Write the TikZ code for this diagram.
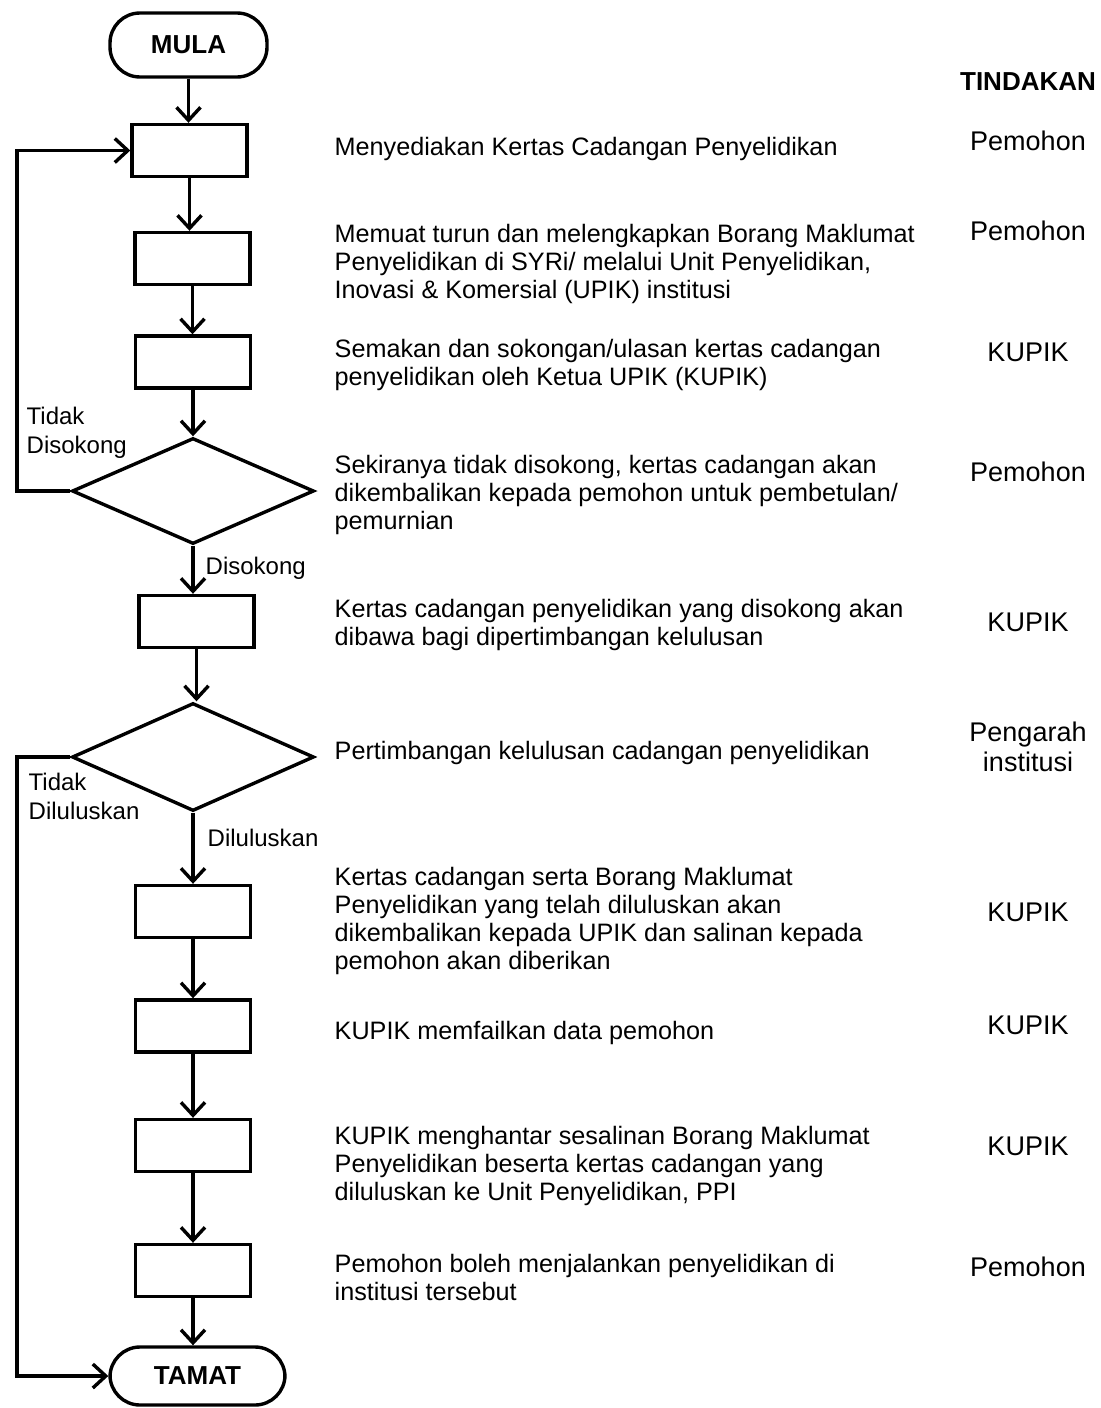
\documentclass[tikz,border=0pt]{standalone}
\usepackage{fontspec}
\setmainfont{Liberation Sans}
\usetikzlibrary{arrows.meta,shapes.geometric}

\begin{document}

\begin{tikzpicture}[x=0.5pt, y=-0.5pt]

\useasboundingbox (0,0) rectangle (1100,1408);

\def\boxw{57.5pt}
\def\boxh{26pt}
\def\descx{333}
\def\actx{1028}
\def\loopx{17}

\begin{scope}[line width=1.7pt, >={Straight Barb[length=6.5pt,width=12pt]},
  proc/.style={draw, rectangle, minimum width=\boxw, minimum height=\boxh, inner sep=0pt},
  term/.style={draw, rectangle, rounded corners=15pt, inner sep=0pt, font=\fontsize{13}{15}\selectfont\bfseries},
  dec/.style={draw, diamond, minimum width=121pt, minimum height=53pt, inner sep=0pt},
  desc/.style={anchor=west, align=left, inner sep=0pt, font=\fontsize{12.6}{14}\selectfont},
  act/.style={align=center, inner sep=0pt, font=\fontsize{13.5}{15}\selectfont},
  lbl/.style={anchor=west, align=left, inner sep=0pt, font=\fontsize{12}{14.5}\selectfont}]

\node [term, minimum width=78.5pt, minimum height=32pt] (mula) at (188.5,45) {MULA};
\node [proc] (p1) at (189.5,150.5) {};
\node [proc] (p2) at (192.5,258.5) {};
\node [proc] (p3) at (193,362) {};
\node [dec] (d1) at (193,491) {};
\node [proc] (p4) at (196.5,621.5) {};
\node [dec, minimum height=54pt] (d2) at (193,757) {};
\node [proc] (p5) at (193,911.5) {};
\node [proc] (p6) at (193,1026) {};
\node [proc] (p7) at (193,1145.5) {};
\node [proc] (p8) at (193,1270.5) {};
\node [term, minimum width=87.5pt, minimum height=29pt] (tamat) at (197.5,1376) {TAMAT};

\foreach \a/\b in {mula/p1, p1/p2, p2/p3, p3/d1, d1/p4, p4/d2, d2/p5, p5/p6, p6/p7, p7/p8, p8/tamat}
  \draw [->] (\a.south) -- (\a.south |- \b.north);

\coordinate (lft) at (\loopx,0);
\draw [->] (d1.west) -- (d1.west -| lft) |- (p1.west);
\draw [->] (d2.west) -- (d2.west -| lft) |- (tamat.west);

\node [lbl] (ltd1) at (25,433) {Tidak\\Disokong};
\node [lbl] (ld1) at (204,568) {Disokong};
\node [lbl] (ltd2) at (27,796) {Tidak\\Diluluskan};
\node [lbl] (ld2) at (206,838) {Diluluskan};

\node [desc] (t1) at (\descx,149) {Menyediakan Kertas Cadangan Penyelidikan};
\node [desc] (t2) at (\descx,264) {Memuat turun dan melengkapkan Borang Maklumat\\Penyelidikan di SYRi/ melalui Unit Penyelidikan,\\Inovasi \& Komersial (UPIK) institusi};
\node [desc] (t3) at (\descx,365) {Semakan dan sokongan/ulasan kertas cadangan\\penyelidikan oleh Ketua UPIK (KUPIK)};
\node [desc] (t4) at (\descx,495) {Sekiranya tidak disokong, kertas cadangan akan\\dikembalikan kepada pemohon untuk pembetulan/\\pemurnian};
\node [desc] (t5) at (\descx,625) {Kertas cadangan penyelidikan yang disokong akan\\dibawa bagi dipertimbangan kelulusan};
\node [desc] (t6) at (\descx,753) {Pertimbangan kelulusan cadangan penyelidikan};
\node [desc] (t7) at (\descx,921) {Kertas cadangan serta Borang Maklumat\\Penyelidikan yang telah diluluskan akan\\dikembalikan kepada UPIK dan salinan kepada\\pemohon akan diberikan};
\node [desc] (t8) at (\descx,1033) {KUPIK memfailkan data pemohon};
\node [desc] (t9) at (\descx,1166) {KUPIK menghantar sesalinan Borang Maklumat\\Penyelidikan beserta kertas cadangan yang\\diluluskan ke Unit Penyelidikan, PPI};
\node [desc] (t10) at (\descx,1277) {Pemohon boleh menjalankan penyelidikan di\\institusi tersebut};

\node [act, font=\fontsize{13}{15}\selectfont\bfseries] (a0) at (\actx,82) {TINDAKAN};
\node [act] (a1) at (\actx,141) {Pemohon};
\node [act] (a2) at (\actx,231) {Pemohon};
\node [act] (a3) at (\actx,352) {KUPIK};
\node [act] (a4) at (\actx,472) {Pemohon};
\node [act] (a5) at (\actx,622) {KUPIK};
\node [act] (a6) at (\actx,747) {Pengarah\\institusi};
\node [act] (a7) at (\actx,912) {KUPIK};
\node [act] (a8) at (\actx,1025) {KUPIK};
\node [act] (a9) at (\actx,1146) {KUPIK};
\node [act] (a10) at (\actx,1267) {Pemohon};

\end{scope}

\end{tikzpicture}

\end{document}
